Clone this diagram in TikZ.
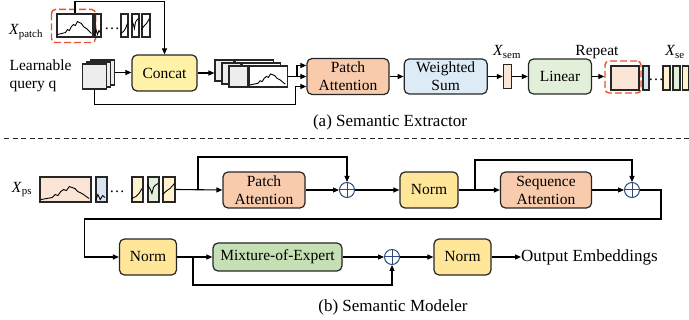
\documentclass[tikz,border=0pt]{standalone}
\usepackage{fontspec}
\setmainfont{Liberation Serif}
\usetikzlibrary{positioning, arrows.meta, calc}
\definecolor{boxLine}{HTML}{262626}
\definecolor{attnOrange}{HTML}{F8CBAD}
\definecolor{sumBlue}{HTML}{DDEBF7}
\definecolor{linGreen}{HTML}{E2F0D9}
\definecolor{concatYellow}{HTML}{FFF2A6}
\definecolor{normYellow}{HTML}{FFE699}
\definecolor{moeGreen}{HTML}{C5E0B4}
\definecolor{patchSalmon}{HTML}{FBE5D6}
\definecolor{patchBlue}{HTML}{DAE3F3}
\definecolor{patchYellow}{HTML}{FFF2CC}
\definecolor{patchGreen}{HTML}{E2F0D9}
\definecolor{queryGray}{HTML}{EDEDED}
\definecolor{pickRed}{HTML}{E8502E}
\definecolor{plusBlue}{HTML}{2F4B7C}

% little time-series sketches drawn inside the patches
\tikzset{
    trend/.style={line width=0.9pt},
    bigtrend/.pic={\draw[trend] (1,-3) -- (5,-4) -- (9,-5) -- (11,-8) -- (13,-7) -- (15,-11) -- (17,-13) -- (19,-12) -- (21,-16) -- (23,-15) -- (25,-14) -- (27,-11) -- (30,-9) -- (33,-6) -- (35,-4);},
    wtrend/.pic={\draw[trend] (0,-2) -- (1.5,-8) -- (3,-3) -- (4.5,-7) -- (6,-5);},
    risetrend/.pic={\draw[trend] (0,-4) -- (3,-6) -- (5,-9) -- (7,-14);},
    vtrend/.pic={\draw[trend] (0,-18) -- (2,-13) -- (3,-9) -- (4,-15) -- (5,-17) -- (7,-19);},
    climbtrend/.pic={\draw[trend] (0,-8) -- (3,-12) -- (5,-14) -- (8,-19);},
}

\begin{document}
\begin{tikzpicture}[
    x=1pt, y=-1pt,
    >={Triangle[length=6pt,width=5pt]},
    every node/.style={font=\fontsize{15.5}{18}\selectfont},
    block/.style={draw=boxLine, line width=1.2pt, rounded corners=5pt, align=center, inner sep=0pt, minimum height=36pt},
    patch/.style={draw=boxLine, line width=1.1pt, inner sep=0pt, minimum height=23pt},
    query/.style={draw=boxLine, line width=1.1pt, fill=queryGray, inner sep=0pt, minimum width=24pt, minimum height=25pt},
    pick/.style={draw=pickRed, line width=1.4pt, rounded corners=4pt, dash pattern=on 7pt off 3pt},
    sumnode/.style={circle, draw=plusBlue, line width=1pt, minimum size=15pt, inner sep=0pt,
        path picture={\draw[plusBlue, line width=1pt] (path picture bounding box.north) -- (path picture bounding box.south)
            (path picture bounding box.west) -- (path picture bounding box.east);}},
    flow/.style={->, line width=1.1pt},
    caption/.style={font=\fontsize{17}{20}\selectfont}
]
    \useasboundingbox (0,0) rectangle (689,320);

    % ---- (a) semantic extractor ----
    \node (xpatch) at (26,32) {\textit{X}\textsubscript{patch}};
    \node[patch, minimum width=36pt] (pbig) at (75,25.5) {};
    \pic at (pbig.south west) {bigtrend};
    \draw[pick] ($(pbig.north west)+(-5,-4)$) rectangle ($(pbig.south east)+(2,5)$);
    \node[patch, minimum width=6pt] (ps1) at (98,25.5) {};
    \pic at (ps1.south west) {wtrend};
    \node (pdots) at (112,29) {\dots};
    \node[patch, minimum width=7pt] (ps2) at (124.5,25.5) {};
    \pic at (ps2.south west) {risetrend};
    \node[patch, minimum width=7pt] (ps3) at (135.5,25.5) {};
    \pic at (ps3.south west) {vtrend};
    \node[patch, minimum width=8pt] (ps4) at (146,25.5) {};
    \pic at (ps4.south west) {climbtrend};

    \node[anchor=west, align=left] (qlabel) at (6,76) {Learnable\\query q};
    \node[query] (q1) at (102.5,72.5) {};
    \node[query] (q2) at (98.5,74.5) {};
    \node[query] (q3) at (94.5,76.5) {};

    \node[block, fill=concatYellow, minimum width=65pt] (concat) at (164.5,73) {Concat};

    % concatenated query + patch tokens
    \foreach \i/\dx/\dy in {1/-14/-6, 2/-7/-3, 3/0/0} {
        \node[query, minimum width=19pt, minimum height=21pt] (cg\i) at (238.5+\dx,76.5+\dy) {};
        \node[patch, fill=white, minimum width=38pt, minimum height=21pt, anchor=west] (cw\i) at (cg\i.east) {};
    }
    \pic[xscale=1.05, yscale=0.85] at (cw3.south west) {bigtrend};

    \node[block, fill=attnOrange, minimum width=82pt] (pa) at (348,76.5) {Patch\\Attention};
    \node[block, fill=sumBlue, minimum width=83pt, minimum height=35pt, right=14pt of pa] (ws) {Weighted\\Sum};
    \node[patch, fill=patchSalmon, minimum width=8pt, minimum height=24pt, right=15pt of ws] (xsem) {};
    \node (xsemlabel) at (507,52) {\textit{X}\textsubscript{sem}};
    \node[block, fill=linGreen, minimum width=63pt, minimum height=35pt, right=16pt of xsem] (lin) {Linear};

    \node (repeat) at (597,52) {Repeat};
    \node[pick, minimum width=36pt, minimum height=32pt] (rpsel) at (623,77) {};
    \node[patch, fill=patchSalmon, minimum width=28pt, minimum height=24pt] (rp) at (625,78) {};
    \node[patch, fill=patchBlue, minimum width=6pt, minimum height=24pt] (rb) at (646,78) {};
    \node (rdots) at (656,80) {\dots};
    \node[patch, fill=patchYellow, minimum width=7pt, minimum height=24pt] (ry1) at (666.5,78) {};
    \node[patch, fill=patchGreen, minimum width=7pt, minimum height=24pt] (rg1) at (676.5,78) {};
    \node[patch, fill=patchYellow, minimum width=6pt, minimum height=24pt] (ry2) at (685.5,78) {};
    \node (xselabel) at (675,52) {\textit{X}\textsubscript{se}};

    \draw[flow] (pbig.north) -- ++(0,-12) -| (concat.north);
    \draw[flow] (q1.east) -- (q1.east -| concat.west);
    \draw[flow] (concat.east) -- (concat.east -| cg1.west);
    \coordinate (jn) at ($(cw3.east)!0.5!(pa.west)$);
    \draw[flow] (cw3.east) -- (pa.west);
    \draw[flow] (jn) |- ($(pa.west)+(0,-11)$);
    \draw[flow] (q3.south) -- ++(0,15) -| ($(pa.west)+(-11,10)$) -- ($(pa.west)+(0,10)$);
    \draw[flow] (pa) -- (ws);
    \draw[flow] (ws) -- (xsem);
    \draw[flow] (xsem) -- (lin);
    \draw[flow] (lin.east) -- (lin.east -| rpsel.west);

    \node[caption] (capa) at (390,122) {(a) Semantic Extractor};

    \draw[boxLine, line width=0.8pt, dash pattern=on 5pt off 3.5pt] (4,138) -- (689,138);

    % ---- (b) semantic modeler ----
    \node (xps) at (22,190) {\textit{X}\textsubscript{ps}};
    \node[patch, fill=patchSalmon, minimum width=51pt, minimum height=25pt] (pb0) at (65.5,189.5) {};
    \pic[xscale=1.42] at (pb0.south west) {bigtrend};
    \node[patch, fill=patchBlue, minimum width=11pt, minimum height=25pt] (pb1) at (101.5,189.5) {};
    \pic[xscale=1.6] at (pb1.south west) {wtrend};
    \node (bdots) at (117,192) {\dots};
    \node[patch, fill=patchYellow, minimum width=11pt, minimum height=25pt] (pb2) at (137.5,189.5) {};
    \pic[xscale=1.5] at (pb2.south west) {risetrend};
    \node[patch, fill=patchGreen, minimum width=11pt, minimum height=25pt] (pb3) at (153.5,189.5) {};
    \pic[xscale=1.5] at (pb3.south west) {vtrend};
    \node[patch, fill=patchYellow, minimum width=12pt, minimum height=25pt] (pb4) at (169,189.5) {};
    \pic[xscale=1.5] at (pb4.south west) {climbtrend};

    \node[block, fill=attnOrange, minimum width=82pt] (pa2) at (264,190) {Patch\\Attention};
    \node[sumnode] (plus1) at (347,190) {};
    \node[block, fill=normYellow, minimum width=58pt] (norm1) at (429,190) {Norm};
    \node[block, fill=attnOrange, minimum width=91pt] (sa) at (546,190) {Sequence\\Attention};
    \node[sumnode] (plus2) at (632,190) {};

    \node[block, fill=normYellow, minimum width=57pt] (norm2) at (148,257) {Norm};
    \node[block, fill=moeGreen, minimum width=129pt, minimum height=28pt] (moe) at (277.5,257) {Mixture-of-Expert};
    \node[sumnode] (plus3) at (392,257) {};
    \node[block, fill=normYellow, minimum width=57pt] (norm3) at (462.5,257) {Norm};
    \node[anchor=west, inner sep=0pt, font=\fontsize{17}{20}\selectfont] (out) at (521,257) {Output Embeddings};

    \draw[flow] (pb4.east) -- (pa2.west);
    \coordinate (br1) at (198,190);
    \draw[flow] (br1) -- ++(0,-33) -| (plus1.north);
    \draw[flow] (pa2) -- (plus1);
    \draw[flow] (plus1) -- (norm1);
    \draw[flow] (norm1) -- (sa);
    \coordinate (br2) at (475,190);
    \draw[flow] (br2) -- ++(0,-30) -| (plus2.north);
    \draw[flow] (sa) -- (plus2);
    \draw[flow] (plus2.east) -- ++(21,0) -- ++(0,29) -| ($(norm2.west)+(-34,0)$) -- (norm2.west);
    \draw[flow] (norm2) -- (moe);
    \coordinate (br3) at (193,257);
    \draw[flow] (br3) -- ++(0,28) -| (plus3.south);
    \draw[flow] (moe) -- (plus3);
    \draw[flow] (plus3) -- (norm3);
    \draw[flow] (norm3) -- (out);

    \node[caption] (capb) at (393,307) {(b) Semantic Modeler};
\end{tikzpicture}
\end{document}
